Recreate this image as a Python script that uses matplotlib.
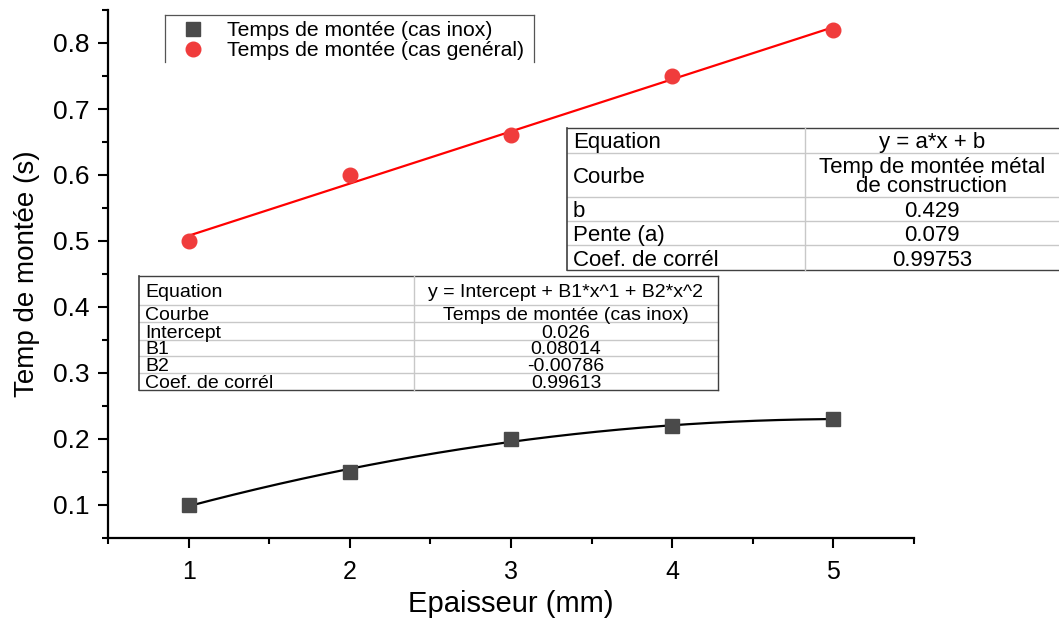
import matplotlib
matplotlib.use("Agg")
import matplotlib.pyplot as plt
from matplotlib.lines import Line2D
import numpy as np

plt.rcParams['font.family'] = ['Liberation Sans', 'DejaVu Sans']

# Measurements
epaisseur = [1, 2, 3, 4, 5]
temps_inox = [0.10, 0.15, 0.20, 0.22, 0.23]
temps_general = [0.50, 0.60, 0.66, 0.75, 0.82]

# Fit coefficients
poly_intercept, poly_b1, poly_b2, poly_r = 0.026, 0.08014, -0.00786, 0.99613
lin_b, lin_a, lin_r = 0.429, 0.079, 0.99753

label_inox = "Temps de montée (cas inox)"
label_general = "Temps de montée (cas genéral)"
xlabel = "Epaisseur (mm)"
ylabel = "Temp de montée (s)"
x_ticks = [1, 2, 3, 4, 5]
y_ticks = [0.1, 0.2, 0.3, 0.4, 0.5, 0.6, 0.7, 0.8]

W, H = 1059, 623
fig = plt.figure(figsize=(W / 100, H / 100), dpi=100)


def fx(x):
    return x / W


def fy(y):
    return 1 - y / H


ax = fig.add_axes([fx(108), fy(538), fx(914) - fx(108), fy(10) - fy(538)])
ax.set_xlim(0.5, 5.5)
ax.set_ylim(0.05, 0.85)

# Fitted curves
xf = np.linspace(1, 5, 200)
ax.plot(xf, poly_intercept + poly_b1 * xf + poly_b2 * xf ** 2, color='black', lw=1.6, zorder=2)
ax.plot(xf, lin_b + lin_a * xf, color='#ff0000', lw=1.6, zorder=2)

# Data points
h1, = ax.plot(epaisseur, temps_inox, ls='none', marker='s', ms=9.5,
              color='#4a4a4a', mec='#4a4a4a', zorder=3, label=label_inox)
h2, = ax.plot(epaisseur, temps_general, ls='none', marker='o', ms=10.5,
              color='#f03c3c', mec='#f03c3c', zorder=3, label=label_general)

for s in ['top', 'right']:
    ax.spines[s].set_visible(False)
for s in ['left', 'bottom']:
    ax.spines[s].set_linewidth(1.6)

ax.set_xticks(x_ticks)
ax.set_xticks(np.arange(0.5, 5.51, 0.5), minor=True)
ax.set_yticks(y_ticks)
ax.set_yticks(np.arange(0.05, 0.851, 0.05), minor=True)
ax.set_yticklabels([f"{v:.1f}" for v in y_ticks])
ax.tick_params(which='major', direction='out', length=7.5, width=1.5, pad=5)
ax.tick_params(which='minor', direction='out', length=4, width=1.5)
ax.tick_params(axis='y', labelsize=19, pad=6)
ax.tick_params(axis='x', labelsize=18, pad=8)

ax.set_xlabel(xlabel, fontsize=21, labelpad=5)
ax.set_ylabel(ylabel, fontsize=20, labelpad=9)

# Legend
fig.legend(handles=[h1, h2], loc='upper left',
           bbox_to_anchor=(fx(170), fy(13)), frameon=False,
           fontsize=15.2, handletextpad=0.9, labelspacing=0.05,
           borderaxespad=0, handlelength=1.4)
frame_col = '#555555'
for (x0, y0, x1, y1) in [(165, 15, 534, 15), (165, 15, 165, 62), (534, 15, 534, 62)]:
    fig.add_artist(Line2D([fx(x0), fx(x1)], [fy(y0), fy(y1)], color=frame_col, lw=0.9,
                          transform=fig.transFigure))


def draw_table(rows, col_x, row_y, fontsize, outer='#404040', inner='#c8c8c8', pad=6,
               open_right=False):
    x0, xm, x1 = col_x
    # horizontal rules
    for i, y in enumerate(row_y):
        col = outer if i in (0, len(row_y) - 1) else inner
        fig.add_artist(Line2D([fx(x0), fx(x1)], [fy(y), fy(y)], color=col, lw=1.0,
                              transform=fig.transFigure))
    # vertical rules
    fig.add_artist(Line2D([fx(x0), fx(x0)], [fy(row_y[0]), fy(row_y[-1])], color=outer,
                          lw=1.2, transform=fig.transFigure))
    fig.add_artist(Line2D([fx(xm), fx(xm)], [fy(row_y[0]), fy(row_y[-1])], color=inner,
                          lw=1.0, transform=fig.transFigure))
    if not open_right:
        fig.add_artist(Line2D([fx(x1), fx(x1)], [fy(row_y[0]), fy(row_y[-1])], color=outer,
                              lw=1.0, transform=fig.transFigure))
    for (left, right), ya, yb in zip(rows, row_y[:-1], row_y[1:]):
        yc = (ya + yb) / 2
        fig.text(fx(x0 + pad), fy(yc), left, ha='left', va='center_baseline',
                 fontsize=fontsize)
        fig.text(fx((xm + x1) / 2), fy(yc), right, ha='center', va='center_baseline',
                 fontsize=fontsize, linespacing=0.9)


lin_rows = [
    ("Equation", "y = a*x + b"),
    ("Courbe", "Temp de montée métal\nde construction"),
    ("b", f"{lin_b:.3f}"),
    ("Pente (a)", f"{lin_a:.3f}"),
    ("Coef. de corrél", f"{lin_r:.5f}"),
]
draw_table(lin_rows, (567, 805, 1059), [128, 153, 197, 221, 245, 270], 16,
           open_right=True)

poly_rows = [
    ("Equation", "y = Intercept + B1*x^1 + B2*x^2"),
    ("Courbe", label_inox),
    ("Intercept", f"{poly_intercept:.3f}"),
    ("B1", f"{poly_b1:.5f}"),
    ("B2", f"{poly_b2:.5f}"),
    ("Coef. de corrél", f"{poly_r:.5f}"),
]
draw_table(poly_rows, (139, 414, 718), [276, 305, 322, 340, 356, 373, 390], 14)

fig.savefig("out.png", dpi=100)
